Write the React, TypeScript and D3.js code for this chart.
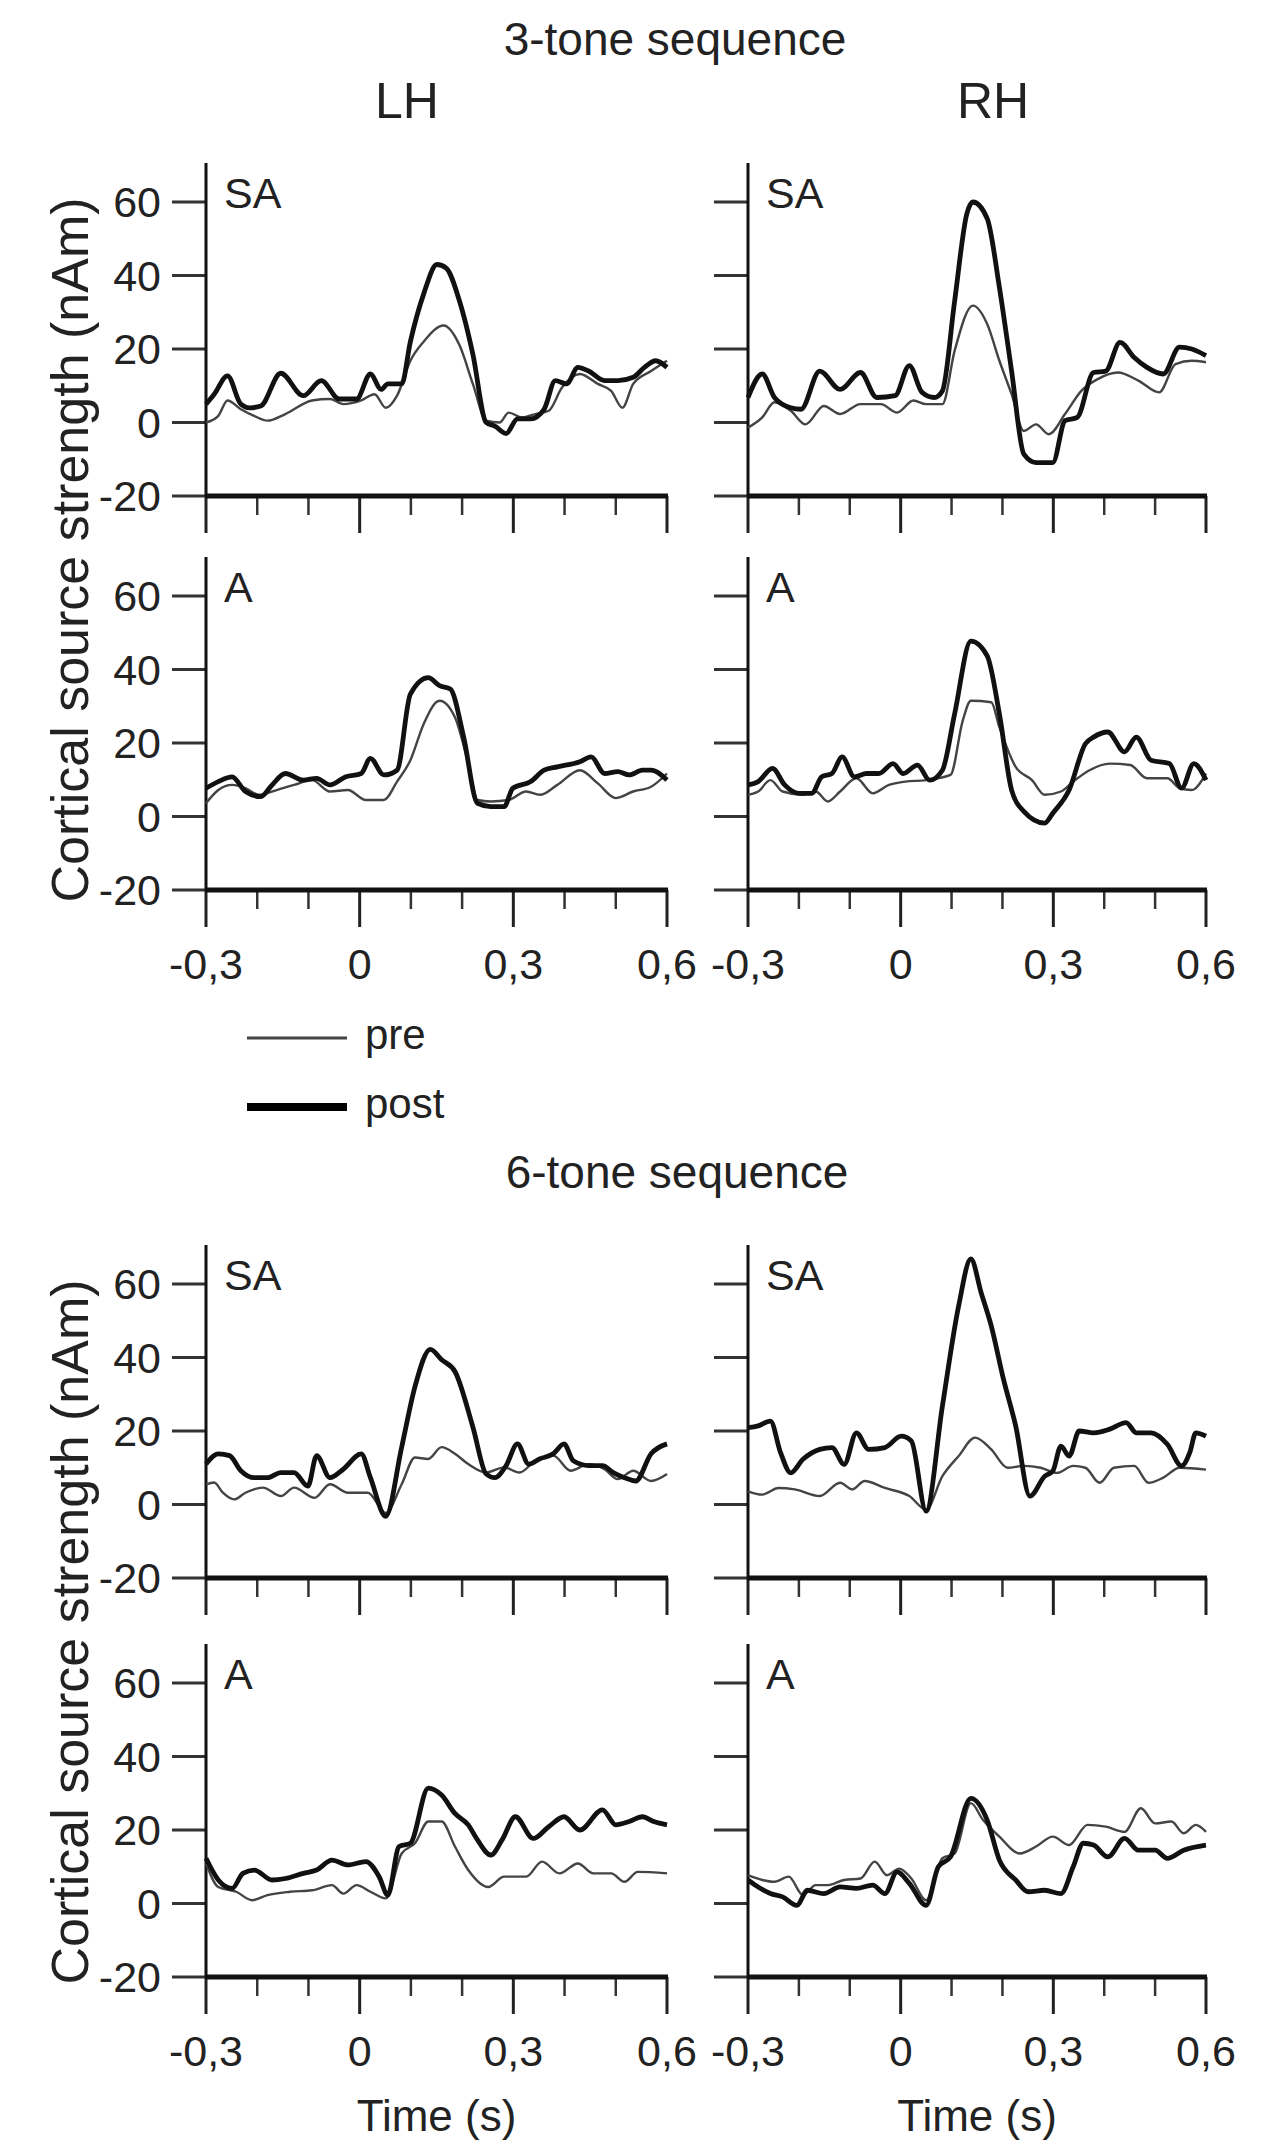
import React, { useRef, useEffect } from "react";
import * as d3 from "d3";

type Pt = [number, number];

// [time (s), source strength (nAm)]
const lhSA3Pre: Pt[] = [[-0.3,0],[-0.276,1.8],[-0.258,6],[-0.232,3.6],[-0.206,1.8],[-0.18,0.5],[-0.145,2.3],[-0.093,6],[-0.058,6.4],[-0.032,5],[0.003,6],[0.029,7.7],[0.051,4],[0.073,7.3],[0.099,16.8],[0.125,22],[0.164,26.4],[0.195,21],[0.221,10.5],[0.247,0.5],[0.273,0],[0.291,2.7],[0.317,1.4],[0.343,2.3],[0.369,3.2],[0.395,9.5],[0.43,13.2],[0.465,10.5],[0.491,8.6],[0.513,4],[0.534,10.5],[0.569,14],[0.6,16.8]];
const lhSA3Post: Pt[] = [[-0.3,5],[-0.284,7.7],[-0.258,12.7],[-0.232,5],[-0.215,4],[-0.193,4.5],[-0.154,13.4],[-0.11,7.3],[-0.075,11.4],[-0.04,6.4],[-0.006,6.4],[0.021,13.2],[0.042,9],[0.055,10.5],[0.082,10.5],[0.099,22],[0.125,35],[0.151,43],[0.169,42],[0.195,33],[0.221,18.6],[0.247,0],[0.264,-1],[0.286,-3],[0.308,1],[0.334,1],[0.36,3.6],[0.382,11.4],[0.404,10.5],[0.426,15],[0.447,14],[0.478,11.4],[0.504,11.4],[0.534,12.3],[0.556,15],[0.578,16.8],[0.6,15]];
const rhSA3Pre: Pt[] = [[-0.3,-1.4],[-0.272,1.4],[-0.248,5.5],[-0.216,3.2],[-0.187,-0.5],[-0.151,4.5],[-0.119,2.3],[-0.079,5],[-0.039,5],[-0.007,2.7],[0.025,6],[0.05,5],[0.082,5],[0.106,19.5],[0.142,31.8],[0.17,26.8],[0.194,16.8],[0.218,7.7],[0.242,-2.3],[0.266,-0.5],[0.291,-3.2],[0.323,2.3],[0.355,8.6],[0.387,11.8],[0.427,13.6],[0.467,11.4],[0.508,8.2],[0.54,15.9],[0.572,16.8],[0.6,16.4]];
const rhSA3Post: Pt[] = [[-0.3,6.8],[-0.272,13.2],[-0.248,6.8],[-0.216,4],[-0.196,3.6],[-0.159,14],[-0.119,9],[-0.079,13.6],[-0.047,6.8],[-0.011,7.3],[0.017,15.5],[0.042,8.2],[0.066,6.8],[0.082,8.6],[0.106,33],[0.13,56.8],[0.142,60],[0.17,55.5],[0.194,36.8],[0.218,14],[0.242,-8.6],[0.266,-10.9],[0.299,-10.9],[0.323,0.5],[0.347,1.4],[0.379,13.6],[0.403,14],[0.431,21.8],[0.459,17.7],[0.484,15],[0.516,13.2],[0.548,20.5],[0.572,20],[0.6,18.2]];
const lhA3Pre: Pt[] = [[-0.3,3.6],[-0.276,7.2],[-0.249,8.6],[-0.223,7.7],[-0.197,5.9],[-0.162,7.2],[-0.128,8.6],[-0.093,9.9],[-0.058,6.8],[-0.023,7.2],[0.012,4.5],[0.047,4.5],[0.073,9.5],[0.099,15.3],[0.125,25.2],[0.156,31.5],[0.186,27],[0.212,14.4],[0.23,4.5],[0.256,4.1],[0.291,4.5],[0.325,6.8],[0.352,5.9],[0.386,8.6],[0.43,12.6],[0.465,9],[0.5,5],[0.534,6.8],[0.569,8.1],[0.6,11.7]];
const lhA3Post: Pt[] = [[-0.3,7.7],[-0.276,9.5],[-0.249,10.8],[-0.223,6.8],[-0.193,5.4],[-0.171,8.6],[-0.145,11.7],[-0.11,9.9],[-0.084,10.4],[-0.058,8.6],[-0.027,10.8],[0.003,11.7],[0.021,15.8],[0.047,11.3],[0.073,12.6],[0.099,33.3],[0.134,37.8],[0.156,35.6],[0.177,34.7],[0.203,21.6],[0.23,3.6],[0.256,2.7],[0.282,2.7],[0.299,7.7],[0.334,9.5],[0.36,12.6],[0.386,13.5],[0.43,14.9],[0.452,16.2],[0.478,11.7],[0.504,12.2],[0.526,11.3],[0.552,12.6],[0.569,12.6],[0.6,9.9]];
const rhA3Pre: Pt[] = [[-0.3,5.9],[-0.28,6.8],[-0.256,9.9],[-0.232,6.8],[-0.192,5.9],[-0.167,6.8],[-0.143,4.1],[-0.119,6.8],[-0.087,10.4],[-0.055,6.3],[-0.023,8.6],[0.009,9.5],[0.05,9.9],[0.098,11.3],[0.122,26.1],[0.138,31.5],[0.178,31.1],[0.194,24.3],[0.226,13.5],[0.258,9.9],[0.283,5.9],[0.315,6.8],[0.339,9.5],[0.371,12.6],[0.411,14.4],[0.451,14],[0.484,10.4],[0.524,10.4],[0.548,7.7],[0.572,7.2],[0.6,11.7]];
const rhA3Post: Pt[] = [[-0.3,8.6],[-0.28,9.5],[-0.252,13.1],[-0.228,8.6],[-0.2,6.3],[-0.175,6.3],[-0.155,10.8],[-0.135,11.7],[-0.115,16.2],[-0.091,10.8],[-0.067,11.7],[-0.043,11.7],[-0.015,14.4],[0.005,11.7],[0.033,14],[0.057,9.9],[0.082,12.6],[0.106,27.9],[0.138,47.7],[0.17,43.7],[0.194,27.9],[0.218,7.2],[0.242,1.4],[0.283,-1.8],[0.299,0.9],[0.331,7.2],[0.363,19.8],[0.379,21.6],[0.407,23],[0.44,17.6],[0.463,21.6],[0.492,15.3],[0.528,14.4],[0.552,7.7],[0.576,14.4],[0.6,9.9]];
const lhSA6Pre: Pt[] = [[-0.3,5.5],[-0.284,6],[-0.267,3.2],[-0.245,1.4],[-0.223,3.2],[-0.189,4.6],[-0.154,2.3],[-0.128,4.6],[-0.088,1.8],[-0.058,5.5],[-0.023,3.2],[0.016,3.2],[0.051,-2.3],[0.082,5.5],[0.108,12.8],[0.134,12.4],[0.16,15.6],[0.186,13.8],[0.212,11],[0.247,8.7],[0.282,10.1],[0.312,8.7],[0.343,11.9],[0.378,13.3],[0.412,9.2],[0.447,11],[0.478,9.6],[0.504,6.9],[0.534,9.2],[0.569,6.4],[0.6,8.3]];
const lhSA6Post: Pt[] = [[-0.3,11],[-0.276,13.8],[-0.254,13.3],[-0.232,9.2],[-0.206,7.3],[-0.18,7.3],[-0.154,8.7],[-0.128,8.7],[-0.101,5],[-0.084,13.3],[-0.058,7.3],[-0.032,9.6],[0.003,13.8],[0.021,7.3],[0.051,-3.2],[0.082,15.6],[0.108,32.1],[0.138,42.2],[0.16,39.4],[0.186,36.2],[0.221,21.1],[0.247,8.3],[0.264,7.3],[0.286,10.6],[0.308,16.5],[0.33,11],[0.351,12.4],[0.378,13.8],[0.399,16.5],[0.417,11.9],[0.447,10.6],[0.474,10.6],[0.495,8.7],[0.517,7.3],[0.539,6.4],[0.569,13.8],[0.6,16.5]];
const rhSA6Pre: Pt[] = [[-0.3,3.6],[-0.272,2.7],[-0.24,4.5],[-0.208,4.1],[-0.159,2.3],[-0.119,5.9],[-0.095,4.1],[-0.071,6.4],[-0.031,4.5],[0.017,2.3],[0.05,-1.4],[0.082,7.7],[0.114,13.2],[0.146,18.2],[0.178,15],[0.21,10],[0.242,10.5],[0.275,10],[0.307,8.6],[0.339,10.5],[0.363,10],[0.391,5.9],[0.419,10],[0.459,10.5],[0.487,5.9],[0.516,7.3],[0.548,10],[0.6,9.5]];
const rhSA6Post: Pt[] = [[-0.3,20.9],[-0.28,21.4],[-0.256,22.7],[-0.236,14.1],[-0.216,8.6],[-0.192,12.3],[-0.159,15],[-0.135,15.5],[-0.111,10.9],[-0.087,19.5],[-0.063,15],[-0.031,15.5],[0.001,18.6],[0.021,17.3],[0.05,-1.8],[0.082,26.8],[0.114,54.1],[0.138,66.8],[0.158,57.7],[0.178,48.6],[0.202,34.1],[0.226,21.4],[0.254,2.3],[0.283,7.7],[0.299,9.1],[0.315,15.9],[0.331,13.2],[0.351,20],[0.379,19.5],[0.411,20.5],[0.443,22.3],[0.463,19.5],[0.492,19.5],[0.524,16.4],[0.552,10.5],[0.568,14.1],[0.58,19.5],[0.6,18.6]];
const lhA6Pre: Pt[] = [[-0.3,10.9],[-0.276,4.5],[-0.241,3.2],[-0.21,0.9],[-0.18,2.3],[-0.136,3.2],[-0.093,3.6],[-0.054,5],[-0.032,2.7],[-0.006,5],[0.021,3.2],[0.051,1.4],[0.082,13.6],[0.108,16.4],[0.134,22.3],[0.16,22.3],[0.186,15.5],[0.212,9.1],[0.251,4.5],[0.282,7.3],[0.325,7.3],[0.356,11.4],[0.39,8.2],[0.426,10.9],[0.456,8.2],[0.491,8.2],[0.517,5.9],[0.543,8.6],[0.6,8.2]];
const lhA6Post: Pt[] = [[-0.3,12.3],[-0.276,6.4],[-0.249,4.1],[-0.228,8.2],[-0.206,9.1],[-0.171,6.4],[-0.145,6.8],[-0.11,8.2],[-0.084,9.1],[-0.054,11.8],[-0.023,10.5],[0.012,11.4],[0.038,7.3],[0.055,2.3],[0.077,15.5],[0.099,16.4],[0.134,31.4],[0.16,29.5],[0.186,24.5],[0.212,21.4],[0.23,17.3],[0.256,13.2],[0.278,17.3],[0.304,23.6],[0.339,17.7],[0.369,20.9],[0.399,23.6],[0.43,20],[0.474,25.5],[0.5,21.4],[0.526,22.3],[0.552,23.6],[0.574,22.3],[0.6,21.4]];
const rhA6Pre: Pt[] = [[-0.3,7.7],[-0.272,6.4],[-0.248,5.9],[-0.22,7.3],[-0.192,2.3],[-0.167,5],[-0.143,5],[-0.111,6.4],[-0.079,6.8],[-0.051,11.4],[-0.027,7.7],[-0.003,9.5],[0.021,6.8],[0.05,0.9],[0.082,12.3],[0.106,13.6],[0.138,27.3],[0.162,22.7],[0.194,18.2],[0.234,13.6],[0.266,15.5],[0.299,18.2],[0.331,15.9],[0.367,21.4],[0.403,20.9],[0.44,19.5],[0.472,25.9],[0.5,21.8],[0.532,22.3],[0.556,19.1],[0.58,21.4],[0.6,19.5]];
const rhA6Post: Pt[] = [[-0.3,6.4],[-0.28,4.5],[-0.256,2.7],[-0.232,1.8],[-0.204,-0.5],[-0.183,3.6],[-0.151,2.7],[-0.119,4.5],[-0.087,4.1],[-0.055,5],[-0.031,2.7],[-0.007,8.6],[0.017,5.5],[0.05,-0.5],[0.074,10],[0.098,12.7],[0.138,28.6],[0.17,22.7],[0.194,11.8],[0.226,6.4],[0.25,3.2],[0.283,3.6],[0.315,2.7],[0.339,10],[0.359,16.4],[0.379,15.9],[0.407,12.7],[0.44,17.7],[0.467,14.5],[0.5,14.5],[0.524,12.3],[0.556,14.5],[0.6,15.9]];

const yTicks = [-20, 0, 20, 40, 60];
const xMajor = [-0.3, 0, 0.3, 0.6];
const xMinor = [-0.2, -0.1, 0.1, 0.2, 0.4, 0.5];
const xTickLabels = ["-0,3", "0", "0,3", "0,6"];
const hemiLabels = ["LH", "RH"];
const blockTitles = ["3-tone sequence", "6-tone sequence"];
const legendLabels = ["pre", "post"];
const yTitle = "Cortical source strength (nAm)";
const xTitle = "Time (s)";

const panels = [
  { row: 0, col: 0, label: "SA", pre: lhSA3Pre, post: lhSA3Post },
  { row: 0, col: 1, label: "SA", pre: rhSA3Pre, post: rhSA3Post },
  { row: 1, col: 0, label: "A", pre: lhA3Pre, post: lhA3Post },
  { row: 1, col: 1, label: "A", pre: rhA3Pre, post: rhA3Post },
  { row: 2, col: 0, label: "SA", pre: lhSA6Pre, post: lhSA6Post },
  { row: 2, col: 1, label: "SA", pre: rhSA6Pre, post: rhSA6Post },
  { row: 3, col: 0, label: "A", pre: lhA6Pre, post: lhA6Post },
  { row: 3, col: 1, label: "A", pre: rhA6Pre, post: rhA6Post },
];

const W = 1281;
const H = 2147;
const FONT = "'Liberation Sans', Arial, Helvetica, sans-serif";
const colX = [[206, 667], [748, 1206]];
const rowBase = [496, 890, 1578, 1977]; // pixel of -20 on each row
const unit = 3.675; // px per nAm
const yTop = 70.6;

const App = () => {
  const svgRef = useRef<SVGSVGElement>(null);

  useEffect(() => {
    const svg = d3.select(svgRef.current);
    svg.selectAll("*").remove();
    svg.append("rect").attr("width", W).attr("height", H).attr("fill", "#fff");

    panels.forEach((p) => {
      const [x0, x1] = colX[p.col];
      const base = rowBase[p.row];
      const x = d3.scaleLinear().domain([-0.3, 0.6]).range([x0, x1]);
      const y = d3.scaleLinear().domain([-20, yTop]).range([base, base - (yTop + 20) * unit]);
      const g = svg.append("g");

      g.selectAll(".yt").data(yTicks).join("line")
        .attr("x1", x0 - 34).attr("x2", x0)
        .attr("y1", (d) => y(d)).attr("y2", (d) => y(d))
        .attr("stroke", "#333").attr("stroke-width", 3);

      g.append("line")
        .attr("x1", x0).attr("x2", x0).attr("y1", y(yTop)).attr("y2", y(-20))
        .attr("stroke", "#111").attr("stroke-width", 3);

      g.selectAll(".xmaj").data(xMajor).join("line")
        .attr("x1", (d) => x(d)).attr("x2", (d) => x(d))
        .attr("y1", base).attr("y2", base + 37)
        .attr("stroke", "#222").attr("stroke-width", 3);
      g.selectAll(".xmin").data(xMinor).join("line")
        .attr("x1", (d) => x(d)).attr("x2", (d) => x(d))
        .attr("y1", base).attr("y2", base + 19)
        .attr("stroke", "#333").attr("stroke-width", 2.5);

      g.append("line")
        .attr("x1", x0 - 1).attr("x2", x1 + 1).attr("y1", base).attr("y2", base)
        .attr("stroke", "#111").attr("stroke-width", 5);

      if (p.col === 0) {
        g.selectAll(".yl").data(yTicks).join("text")
          .attr("x", 161).attr("y", (d) => y(d) + 15)
          .attr("text-anchor", "end")
          .attr("font-size", 43).attr("font-family", FONT).attr("fill", "#222")
          .text((d) => String(d));
      }
      if (p.row === 1 || p.row === 3) {
        g.selectAll(".xl").data(xMajor).join("text")
          .attr("x", (d) => x(d)).attr("y", base + 89)
          .attr("text-anchor", "middle")
          .attr("font-size", 43).attr("font-family", FONT).attr("fill", "#222")
          .text((_, i) => xTickLabels[i]);
      }

      g.append("text")
        .attr("x", x0 + 18).attr("y", y(60) + 6)
        .attr("font-size", 43).attr("font-family", FONT).attr("fill", "#222")
        .text(p.label);

      const line = d3.line<Pt>().x((d) => x(d[0])).y((d) => y(d[1])).curve(d3.curveMonotoneX);
      g.append("path").attr("d", line(p.pre))
        .attr("fill", "none").attr("stroke", "#444").attr("stroke-width", 2.4)
        .attr("stroke-linejoin", "round");
      g.append("path").attr("d", line(p.post))
        .attr("fill", "none").attr("stroke", "#111").attr("stroke-width", 4.8)
        .attr("stroke-linejoin", "round");
    });

    // block titles and hemisphere headers
    svg.selectAll(".title").data(blockTitles).join("text")
      .attr("x", (_, i) => (i === 0 ? 675 : 677))
      .attr("y", (_, i) => (i === 0 ? 55 : 1188))
      .attr("text-anchor", "middle")
      .attr("font-size", 46).attr("font-family", FONT).attr("fill", "#222")
      .text((d) => d);
    svg.selectAll(".hemi").data(hemiLabels).join("text")
      .attr("x", (_, i) => (i === 0 ? 407 : 993)).attr("y", 118)
      .attr("text-anchor", "middle")
      .attr("font-size", 50).attr("font-family", FONT).attr("fill", "#222")
      .text((d) => d);

    // y titles
    [550, 1632].forEach((cy) => {
      svg.append("text")
        .attr("transform", `translate(88,${cy}) rotate(-90)`)
        .attr("text-anchor", "middle")
        .attr("font-size", 52).attr("font-family", FONT).attr("fill", "#222")
        .text(yTitle);
    });

    // x titles
    [0, 1].forEach((c) => {
      svg.append("text")
        .attr("x", (colX[c][0] + colX[c][1]) / 2).attr("y", 2131)
        .attr("text-anchor", "middle")
        .attr("font-size", 44).attr("font-family", FONT).attr("fill", "#222")
        .text(xTitle);
    });

    // legend
    const leg = svg.append("g");
    legendLabels.forEach((lab, i) => {
      const ly = i === 0 ? 1038 : 1107;
      leg.append("line")
        .attr("x1", 247).attr("x2", 347).attr("y1", ly).attr("y2", ly)
        .attr("stroke", i === 0 ? "#444" : "#000").attr("stroke-width", i === 0 ? 3 : 8);
      leg.append("text")
        .attr("x", 365).attr("y", ly + 11)
        .attr("font-size", 42).attr("font-family", FONT).attr("fill", "#222")
        .text(lab);
    });
  }, []);

  return (
    <svg
      ref={svgRef}
      width={W}
      height={H}
      style={{ position: "absolute", left: 0, top: 0, display: "block" }}
    ></svg>
  );
};

export default App;
